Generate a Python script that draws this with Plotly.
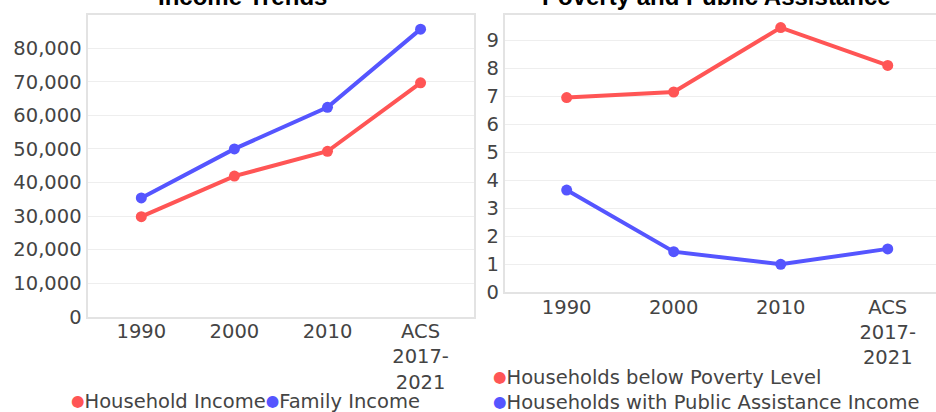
import plotly.graph_objects as go

# ---- data ----
categories = ["1990", "2000", "2010", "ACS<br>2017-<br>2021"]
household_income = [29800, 41900, 49300, 69700]
family_income = [35400, 50000, 62400, 85700]
poverty_pct = [6.95, 7.15, 9.45, 8.1]
public_assist_pct = [3.65, 1.45, 1.0, 1.55]

income_tickvals = [0, 10000, 20000, 30000, 40000, 50000, 60000, 70000, 80000]
income_ticktext = ["0", "10,000", "20,000", "30,000", "40,000", "50,000", "60,000", "70,000", "80,000"]
pct_tickvals = [0, 1, 2, 3, 4, 5, 6, 7, 8, 9]

series_left = [("Household Income", household_income, "#ff5555"),
               ("Family Income", family_income, "#5555ff")]
series_right = [("Households below Poverty Level", poverty_pct, "#ff5555"),
                ("Households with Public Assistance Income", public_assist_pct, "#5555ff")]
titles = ["Income Trends", "Poverty and Public Assistance"]

W, H = 936, 412
FONT = "DejaVu Sans"
TXT = "#444444"
FS = 19.5

fig = go.Figure()
for name, vals, col in series_left:
    fig.add_trace(go.Scatter(x=categories, y=vals, name=name, mode="lines+markers",
                             line=dict(color=col, width=4), marker=dict(color=col, size=11),
                             xaxis="x", yaxis="y", showlegend=False))
for name, vals, col in series_right:
    fig.add_trace(go.Scatter(x=categories, y=vals, name=name, mode="lines+markers",
                             line=dict(color=col, width=4), marker=dict(color=col, size=11),
                             xaxis="x2", yaxis="y2", showlegend=False))

def px_x(p):
    return p / W

def px_y(p):
    return 1 - p / H

common = dict(gridcolor="#eeeeee", gridwidth=1, showline=True,
              linecolor="#e3e3e3", linewidth=2, ticks="", zeroline=False, automargin=False,
              tickfont=dict(family=FONT, size=FS, color=TXT), fixedrange=True)

fig.update_layout(
    template=None,
    width=W, height=H, margin=dict(l=0, r=0, t=0, b=0, autoexpand=False),
    paper_bgcolor="white", plot_bgcolor="white",
    font=dict(family=FONT, size=FS, color=TXT),
    xaxis=dict(domain=[px_x(87.5), px_x(474)], range=[-0.578, 3.574], type="category",
               anchor="y", mirror=True, showgrid=False, ticklabelstandoff=-4, **common),
    yaxis=dict(domain=[px_y(316.7), px_y(14.7)], range=[0, 90000], anchor="x",
               tickmode="array", tickvals=income_tickvals, ticktext=income_ticktext,
               mirror=True, showgrid=True, **common),
    xaxis2=dict(domain=[px_x(504.7), 1.0], range=[-0.579, 3.451], type="category",
                anchor="y2", mirror=True, showgrid=False, ticklabelstandoff=-4, **common),
    yaxis2=dict(domain=[px_y(292.3), px_y(14.7)], range=[0, 9.91], anchor="x2",
                tickmode="array", tickvals=pct_tickvals, mirror=False, showgrid=True, **common),
)

DOT = '<span style="color:%s;font-size:15.5px;baseline-shift:2px">●</span>%s'

annotations = []
# titles
for t, cx in zip(titles, [242, 716.7]):
    annotations.append(dict(text="<b>" + t + "</b>", xref="paper", yref="paper",
                            x=px_x(cx), y=px_y(-3.5), xanchor="center", yanchor="middle",
                            showarrow=False,
                            font=dict(family="Liberation Sans", size=24, color="black")))
# left legend (single row)
left_leg = "".join(DOT % (c, n) for n, _, c in series_left)
annotations.append(dict(text=left_leg, xref="paper", yref="paper", x=px_x(245), y=px_y(401.7),
                        xanchor="center", yanchor="middle", showarrow=False,
                        font=dict(family=FONT, size=FS, color=TXT)))
# right legend (stacked)
for (n, _, c), cy in zip(series_right, [377.7, 402.7]):
    annotations.append(dict(text=DOT % (c, n), xref="paper", yref="paper",
                            x=px_x(490.7), y=px_y(cy), xanchor="left", yanchor="middle",
                            showarrow=False, font=dict(family=FONT, size=FS, color=TXT)))
fig.update_layout(annotations=annotations)

fig.write_html("out.html", config={"displayModeBar": False},
               post_script="document.body.style.margin='0px';")
